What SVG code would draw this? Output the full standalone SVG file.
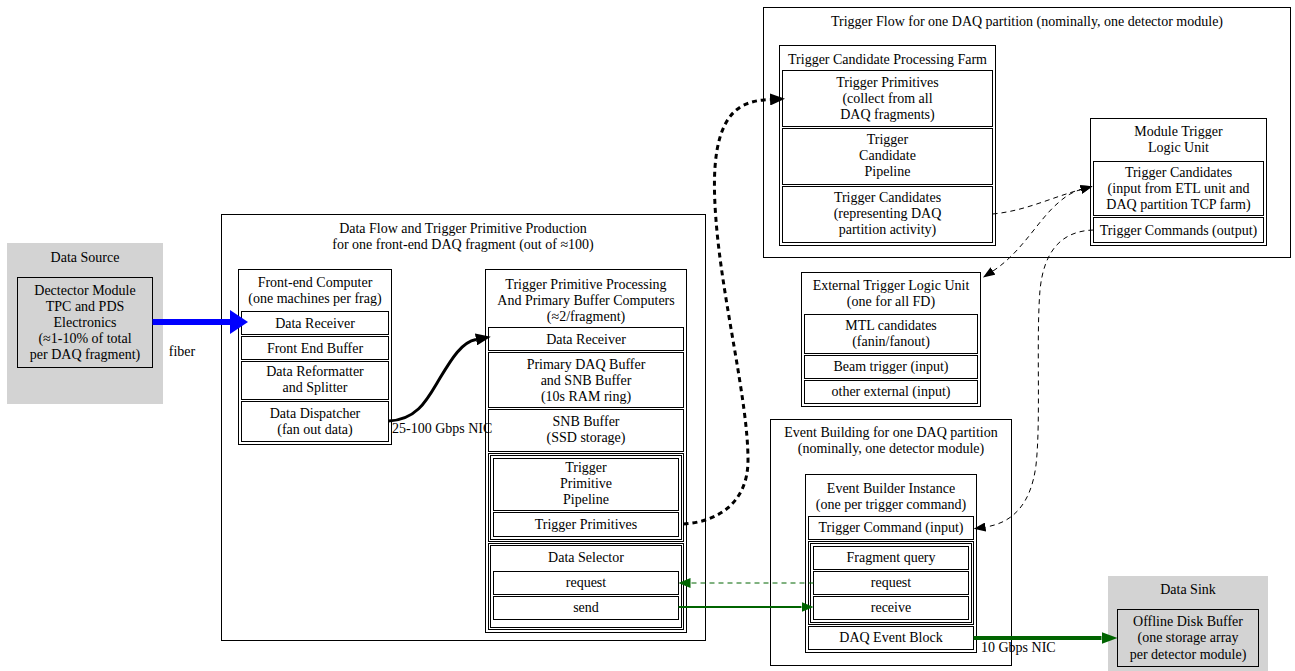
<svg xmlns="http://www.w3.org/2000/svg" width="1295" height="671" viewBox="0 0 1295 671">
<style>
text{font-family:"Liberation Serif","Times New Roman",serif;font-size:14px;text-anchor:middle;fill:#000}
.cl{fill:#fff;stroke:#000;stroke-width:1}
.gcl{fill:#d3d3d3;stroke:none}
.tb{fill:#fff;stroke:#000;stroke-width:1}
.gtb{fill:#d3d3d3;stroke:#000;stroke-width:1}
.c{fill:none;stroke:#000;stroke-width:1}
.e{fill:none}
</style>
<defs>
<marker id="ahBlue" viewBox="0 0 10 10" refX="0" refY="5" markerWidth="18" markerHeight="24" markerUnits="userSpaceOnUse" orient="auto" preserveAspectRatio="none"><path d="M0,0L10,5L0,10z" fill="#0000ff"/></marker>
<marker id="ahBold" viewBox="0 0 10 10" refX="0" refY="5" markerWidth="15" markerHeight="12" markerUnits="userSpaceOnUse" orient="auto" preserveAspectRatio="none"><path d="M0,0L10,5L0,10z" fill="#000"/></marker>
<marker id="ahThin" viewBox="0 0 10 10" refX="0" refY="5" markerWidth="12" markerHeight="9" markerUnits="userSpaceOnUse" orient="auto-start-reverse" preserveAspectRatio="none"><path d="M0,0L10,5L0,10z" fill="#000"/></marker>
<marker id="ahGreen" viewBox="0 0 10 10" refX="0" refY="5" markerWidth="12" markerHeight="10" markerUnits="userSpaceOnUse" orient="auto" preserveAspectRatio="none"><path d="M0,0L10,5L0,10z" fill="#006400"/></marker>
<marker id="ahGreenBig" viewBox="0 0 10 10" refX="0" refY="5" markerWidth="16" markerHeight="12" markerUnits="userSpaceOnUse" orient="auto" preserveAspectRatio="none"><path d="M0,0L10,5L0,10z" fill="#006400"/></marker>
</defs>

<!-- clusters -->
<g id="cluster-data-source">
<rect class="gcl" x="7" y="243" width="156" height="161"/>
<text x="85" y="262">Data Source</text>
</g>
<g id="cluster-data-flow">
<rect class="cl" x="221.5" y="214.5" width="484" height="426"/>
<text x="463" y="232.5">Data Flow and Trigger Primitive Production</text>
<text x="463" y="248.5">for one front-end DAQ fragment (out of ≈100)</text>
</g>
<g id="cluster-trigger-flow">
<rect class="cl" x="763.5" y="7.5" width="527" height="250"/>
<text x="1027" y="25.5">Trigger Flow for one DAQ partition (nominally, one detector module)</text>
</g>
<g id="cluster-event-building">
<rect class="cl" x="770.5" y="419.5" width="241" height="246"/>
<text x="891" y="436.5">Event Building for one DAQ partition</text>
<text x="891" y="452.5">(nominally, one detector module)</text>
</g>
<g id="cluster-data-sink">
<rect class="gcl" x="1108" y="576" width="160" height="95"/>
<text x="1188" y="593.5">Data Sink</text>
</g>

<!-- nodes -->
<g id="node-detector-module">
<rect class="gtb" x="17.5" y="277.5" width="135" height="90"/>
<text x="85" y="294.5">Dectector Module</text>
<text x="85" y="310.7">TPC and PDS</text>
<text x="85" y="326.9">Electronics</text>
<text x="85" y="343.1">(≈1-10% of total</text>
<text x="85" y="359.3">per DAQ fragment)</text>
</g>

<g id="node-front-end-computer">
<rect class="tb" x="238.5" y="269.5" width="153" height="175"/>
<text x="315" y="286.5">Front-end Computer</text>
<text x="315" y="302.5">(one machines per frag)</text>
<rect class="c" x="241.5" y="311.5" width="147" height="23"/>
<text x="315" y="327.5">Data Receiver</text>
<rect class="c" x="241.5" y="336.5" width="147" height="23"/>
<text x="315" y="352.5">Front End Buffer</text>
<rect class="c" x="241.5" y="361.5" width="147" height="38"/>
<text x="315" y="376">Data Reformatter</text>
<text x="315" y="392"> and Splitter</text>
<rect class="c" x="241.5" y="401.5" width="147" height="40"/>
<text x="315" y="417.5">Data Dispatcher</text>
<text x="315" y="433.5">(fan out data)</text>
</g>

<g id="node-tpp-computers">
<rect class="tb" x="485.5" y="269.5" width="201" height="363"/>
<text x="586" y="288.5">Trigger Primitive Processing</text>
<text x="586" y="304.5">And Primary Buffer Computers</text>
<text x="586" y="320.5">(≈2/fragment)</text>
<rect class="c" x="488.5" y="327.5" width="195" height="23"/>
<text x="586" y="343.5">Data Receiver</text>
<rect class="c" x="488.5" y="352.5" width="195" height="55"/>
<text x="586" y="368.5">Primary DAQ Buffer</text>
<text x="586" y="384.5">and SNB Buffer</text>
<text x="586" y="400.5">(10s RAM ring)</text>
<rect class="c" x="488.5" y="409.5" width="195" height="42"/>
<text x="586" y="425.5">SNB Buffer</text>
<text x="586" y="441.5">(SSD storage)</text>
<rect class="c" x="488.5" y="453.5" width="195" height="88"/>
<rect class="c" x="490.5" y="455.5" width="191" height="84"/>
<rect class="c" x="493.5" y="458.5" width="185" height="52"/>
<text x="586" y="471.5">Trigger</text>
<text x="586" y="487.5">Primitive</text>
<text x="586" y="503.5">Pipeline</text>
<rect class="c" x="493.5" y="512.5" width="185" height="24"/>
<text x="586" y="528.5">Trigger Primitives</text>
<rect class="c" x="488.5" y="543.5" width="195" height="86"/>
<rect class="c" x="490.5" y="545.5" width="191" height="82"/>
<text x="586" y="561.5">Data Selector</text>
<rect class="c" x="493.5" y="571.5" width="185" height="23"/>
<text x="586" y="586.5">request</text>
<rect class="c" x="493.5" y="596.5" width="185" height="23"/>
<text x="586" y="611.5">send</text>
</g>

<g id="node-tcp-farm">
<rect class="tb" x="779.5" y="45.5" width="216" height="200"/>
<text x="887.5" y="63.5">Trigger Candidate Processing Farm</text>
<rect class="c" x="782.5" y="70.5" width="210" height="56"/>
<text x="887.5" y="87">Trigger Primitives</text>
<text x="887.5" y="103">(collect from all</text>
<text x="887.5" y="119">DAQ fragments)</text>
<rect class="c" x="782.5" y="128.5" width="210" height="56"/>
<text x="887.5" y="144">Trigger</text>
<text x="887.5" y="160">Candidate</text>
<text x="887.5" y="176">Pipeline</text>
<rect class="c" x="782.5" y="186.5" width="210" height="56"/>
<text x="887.5" y="202">Trigger Candidates</text>
<text x="887.5" y="218">(representing DAQ</text>
<text x="887.5" y="234">partition activity)</text>
</g>

<g id="node-module-tlu">
<rect class="tb" x="1090.5" y="118.5" width="176" height="127"/>
<text x="1178.5" y="136">Module Trigger</text>
<text x="1178.5" y="152">Logic Unit</text>
<rect class="c" x="1093.5" y="161.5" width="170" height="54"/>
<text x="1178.5" y="177">Trigger Candidates</text>
<text x="1178.5" y="193">(input from ETL unit and</text>
<text x="1178.5" y="209">DAQ partition TCP farm)</text>
<rect class="c" x="1093.5" y="217.5" width="170" height="25"/>
<text x="1178.5" y="234.5">Trigger Commands (output)</text>
</g>

<g id="node-external-tlu">
<rect class="tb" x="801.5" y="272.5" width="179" height="134"/>
<text x="891" y="289.5">External Trigger Logic Unit</text>
<text x="891" y="305.5">(one for all FD)</text>
<rect class="c" x="804.5" y="314.5" width="173" height="39"/>
<text x="891" y="329.5">MTL candidates</text>
<text x="891" y="345.5"> (fanin/fanout)</text>
<rect class="c" x="804.5" y="355.5" width="173" height="23"/>
<text x="891" y="371">Beam trigger (input)</text>
<rect class="c" x="804.5" y="380.5" width="173" height="23"/>
<text x="891" y="396">other external (input)</text>
</g>

<g id="node-event-builder">
<rect class="tb" x="805.5" y="474.5" width="171" height="178"/>
<text x="891" y="492.5">Event Builder Instance</text>
<text x="891" y="508.5">(one per trigger command)</text>
<rect class="c" x="808.5" y="516.5" width="165" height="23"/>
<text x="891" y="532">Trigger Command (input)</text>
<rect class="c" x="808.5" y="541.5" width="165" height="83"/>
<rect class="c" x="810.5" y="543.5" width="161" height="79"/>
<rect class="c" x="813.5" y="546.5" width="155" height="23"/>
<text x="891" y="562">Fragment query</text>
<rect class="c" x="813.5" y="571.5" width="155" height="23"/>
<text x="891" y="587">request</text>
<rect class="c" x="813.5" y="596.5" width="155" height="23"/>
<text x="891" y="611.5">receive</text>
<rect class="c" x="808.5" y="626.5" width="165" height="23"/>
<text x="891" y="642">DAQ Event Block</text>
</g>

<g id="node-offline-disk">
<rect class="gtb" x="1117.5" y="609.5" width="141" height="57"/>
<text x="1188" y="625.5">Offline Disk Buffer</text>
<text x="1188" y="642">(one storage array</text>
<text x="1188" y="658.5">per detector module)</text>
</g>

<!-- connectors -->
<g id="connectors">
<path class="e" d="M152.5,322L230,322" stroke="#0000ff" stroke-width="6" marker-end="url(#ahBlue)"/>
<text x="182" y="355.5">fiber</text>

<path class="e" d="M388.5,421C418,420 428,398 440,378C452,358 462,342 476,339.5" stroke="#000" stroke-width="3" marker-end="url(#ahBold)"/>
<text x="392" y="432.5" style="text-anchor:start">25-100 Gbps NIC</text>

<path class="e" d="M683.5,524C715,522 748,505 748,460C748,400 722,300 716,220C712,170 714,122 742,106C752,101 760,100 770,99.5" stroke="#000" stroke-width="3" stroke-dasharray="5,4" marker-end="url(#ahBold)"/>

<path class="e" d="M992.5,214C1025,211 1050,198 1081,189.5" stroke="#000" stroke-width="1" stroke-dasharray="5,4" marker-end="url(#ahThin)"/>
<path class="e" d="M993,271C1022,252 1038,220 1058,203C1066,196 1072,192 1081,189.5" stroke="#000" stroke-width="1" stroke-dasharray="5,4" marker-start="url(#ahThin)" marker-end="url(#ahThin)"/>

<path class="e" d="M1093.5,230C1062,231 1044,250 1040,290C1036,340 1041,420 1036,465C1031,505 1012,523 985.5,527" stroke="#000" stroke-width="1" stroke-dasharray="5,4" marker-end="url(#ahThin)"/>

<path class="e" d="M813.5,583L690.5,583" stroke="#006400" stroke-width="1" stroke-dasharray="5,4" marker-end="url(#ahGreen)"/>
<path class="e" d="M678.5,607L801.5,607" stroke="#006400" stroke-width="2" marker-end="url(#ahGreen)"/>
<path class="e" d="M973.5,638L1101.5,638" stroke="#006400" stroke-width="4" marker-end="url(#ahGreenBig)"/>
<text x="981" y="652" style="text-anchor:start">10 Gbps NIC</text>
</g>
</svg>
